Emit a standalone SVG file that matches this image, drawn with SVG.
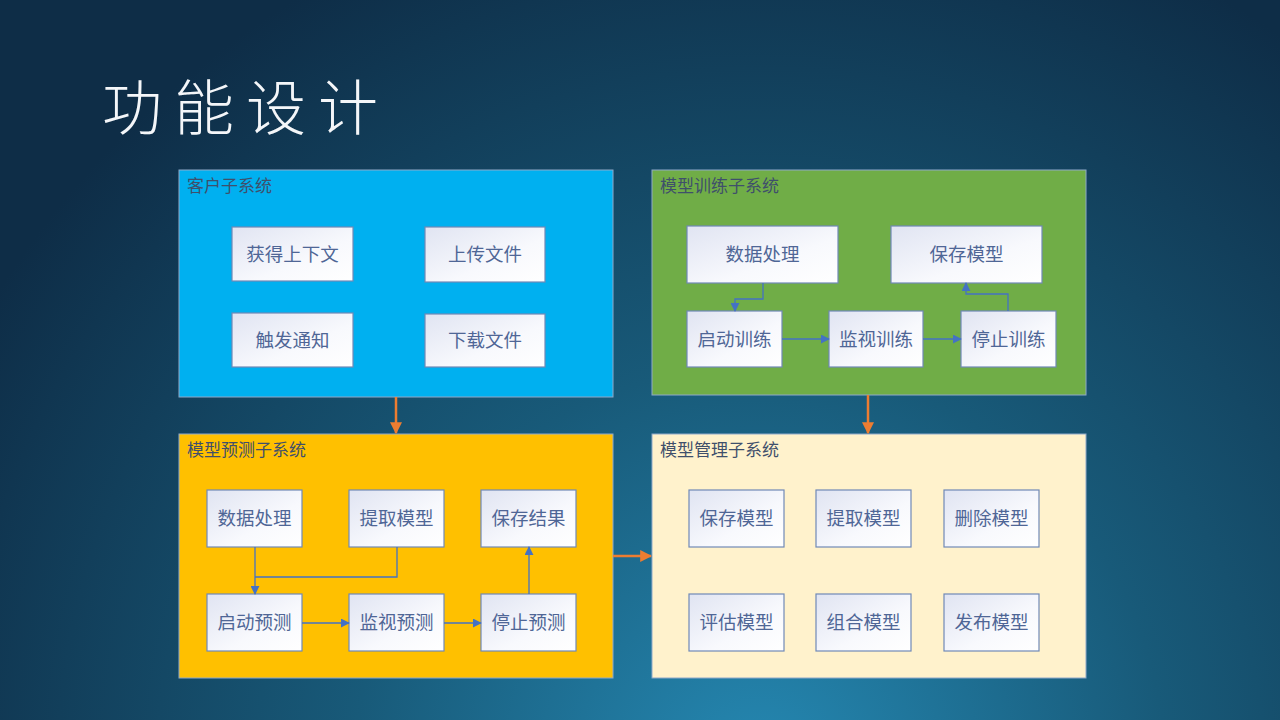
<svg xmlns="http://www.w3.org/2000/svg" width="1280" height="720" viewBox="0 0 1280 720">
<defs>
<radialGradient id="bg" cx="760" cy="770" r="900" gradientUnits="userSpaceOnUse">
<stop offset="0" stop-color="#2588B2"/>
<stop offset="0.45" stop-color="#185A79"/>
<stop offset="1" stop-color="#0E2D47"/>
</radialGradient>
<linearGradient id="nodeFill" x1="0" y1="0" x2="1" y2="1">
<stop offset="0" stop-color="#E0E4F2"/>
<stop offset="0.6" stop-color="#F8F9FD"/>
<stop offset="1" stop-color="#FFFFFF"/>
</linearGradient>
<marker id="blueArrow" viewBox="0 0 10 10" refX="9" refY="5" markerWidth="9" markerHeight="9" markerUnits="userSpaceOnUse" orient="auto">
<path d="M0,0 L10,5 L0,10 z" fill="#4472C4"/>
</marker>
<marker id="orangeArrow" viewBox="0 0 10 10" refX="9" refY="5" markerWidth="12" markerHeight="12" markerUnits="userSpaceOnUse" orient="auto">
<path d="M0,0 L10,5 L0,10 z" fill="#ED7D31"/>
</marker>
<style>
.panel { stroke: #8FA9C9; stroke-width: 1; }
.ptitle { font-family: "Liberation Sans", "Noto Sans CJK SC", sans-serif; font-size: 17px; fill: #3F4F6B; }
.node rect { fill: url(#nodeFill); stroke: #7089B6; stroke-width: 1.2; }
.node text { font-family: "Liberation Sans", "Noto Sans CJK SC", sans-serif; font-size: 18.5px; fill: #4F6696; text-anchor: middle; dominant-baseline: central; }
.conn { fill: none; stroke: #4472C4; stroke-width: 1.3; marker-end: url(#blueArrow); }
.conn-plain { fill: none; stroke: #4472C4; stroke-width: 1.3; }
.big { fill: none; stroke: #ED7D31; stroke-width: 2.5; marker-end: url(#orangeArrow); }
</style>
</defs>
<rect width="1280" height="720" fill="url(#bg)"/>
<text x="102" y="130" font-family="Noto Sans CJK SC, sans-serif" font-size="60" font-weight="300" letter-spacing="12" fill="#F4F6F9">功能设计</text>

<g id="client">
<rect class="panel" x="179" y="170" width="434" height="227" fill="#00B0F0"/>
<text class="ptitle" x="187" y="192">客户子系统</text>
</g>
<g id="client-context" class="node"><rect x="232" y="227" width="121" height="54"/><text x="292.5" y="254">获得上下文</text></g>
<g id="client-upload" class="node"><rect x="425" y="227" width="120" height="55"/><text x="485" y="254.5">上传文件</text></g>
<g id="client-notify" class="node"><rect x="232" y="313" width="121" height="54"/><text x="292.5" y="340">触发通知</text></g>
<g id="client-download" class="node"><rect x="425" y="314" width="120" height="53"/><text x="485" y="340.5">下载文件</text></g>

<g id="training">
<rect class="panel" x="652" y="170" width="434" height="225" fill="#70AD47"/>
<text class="ptitle" x="660" y="192">模型训练子系统</text>
</g>
<g id="train-data" class="node"><rect x="687" y="226" width="151" height="57"/><text x="762.5" y="254.5">数据处理</text></g>
<g id="train-save" class="node"><rect x="891" y="226" width="151" height="57"/><text x="966.5" y="254.5">保存模型</text></g>
<g id="train-start" class="node"><rect x="687" y="311" width="95" height="56"/><text x="734.5" y="339">启动训练</text></g>
<g id="train-monitor" class="node"><rect x="829" y="311" width="94" height="56"/><text x="876" y="339">监视训练</text></g>
<g id="train-stop" class="node"><rect x="961" y="311" width="95" height="56"/><text x="1008.5" y="339">停止训练</text></g>

<g id="prediction">
<rect class="panel" x="179" y="434" width="434" height="244" fill="#FFC000"/>
<text class="ptitle" x="187" y="456">模型预测子系统</text>
</g>
<g id="pred-data" class="node"><rect x="207" y="490" width="95" height="57"/><text x="254.5" y="518.5">数据处理</text></g>
<g id="pred-fetch" class="node"><rect x="349" y="490" width="95" height="57"/><text x="396.5" y="518.5">提取模型</text></g>
<g id="pred-save" class="node"><rect x="481" y="490" width="95" height="57"/><text x="528.5" y="518.5">保存结果</text></g>
<g id="pred-start" class="node"><rect x="207" y="594" width="95" height="57"/><text x="254.5" y="622.5">启动预测</text></g>
<g id="pred-monitor" class="node"><rect x="349" y="594" width="95" height="57"/><text x="396.5" y="622.5">监视预测</text></g>
<g id="pred-stop" class="node"><rect x="481" y="594" width="95" height="57"/><text x="528.5" y="622.5">停止预测</text></g>

<g id="management">
<rect class="panel" x="652" y="434" width="434" height="244" fill="#FFF2CC"/>
<text class="ptitle" x="660" y="456">模型管理子系统</text>
</g>
<g id="mgmt-save" class="node"><rect x="689" y="490" width="95" height="57"/><text x="736.5" y="518.5">保存模型</text></g>
<g id="mgmt-fetch" class="node"><rect x="816" y="490" width="95" height="57"/><text x="863.5" y="518.5">提取模型</text></g>
<g id="mgmt-delete" class="node"><rect x="944" y="490" width="95" height="57"/><text x="991.5" y="518.5">删除模型</text></g>
<g id="mgmt-eval" class="node"><rect x="689" y="594" width="95" height="57"/><text x="736.5" y="622.5">评估模型</text></g>
<g id="mgmt-combine" class="node"><rect x="816" y="594" width="95" height="57"/><text x="863.5" y="622.5">组合模型</text></g>
<g id="mgmt-publish" class="node"><rect x="944" y="594" width="95" height="57"/><text x="991.5" y="622.5">发布模型</text></g>

<g id="connectors">
<path class="big" d="M396,397 L396,433"/>
<path class="big" d="M868,395 L868,433"/>
<path class="big" d="M613,556 L651,556"/>
<path class="conn" d="M763,283 L763,299 L735,299 L735,311"/>
<path class="conn" d="M782,339 L829,339"/>
<path class="conn" d="M923,339 L961,339"/>
<path class="conn" d="M1008,311 L1008,294 L966,294 L966,283"/>
<path class="conn" d="M255,547 L255,594"/>
<path class="conn-plain" d="M397,547 L397,577 L255,577"/>
<path class="conn" d="M302,623 L349,623"/>
<path class="conn" d="M444,623 L481,623"/>
<path class="conn" d="M529,594 L529,547"/>
</g>
</svg>
